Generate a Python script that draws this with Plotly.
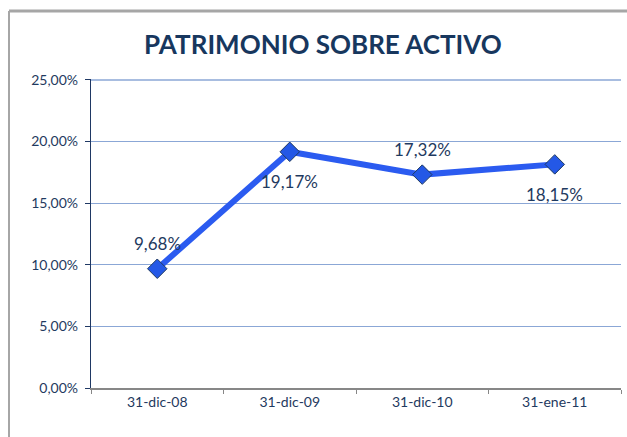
import plotly.graph_objects as go

categories = ["31-dic-08", "31-dic-09", "31-dic-10", "31-ene-11"]
values = [0.0968, 0.1917, 0.1732, 0.1815]
label_side = ["above", "below", "above", "below"]
y_ticks = [0, 0.05, 0.10, 0.15, 0.20, 0.25]

NAVY = "#1F3A60"
FONT = "Lato"

fig = go.Figure()
fig.add_trace(go.Scatter(
    x=categories, y=values, mode="lines+markers",
    line=dict(color="#2B5BF0", width=6),
    marker=dict(symbol="diamond", size=15, color="#2458E6",
                line=dict(color="#1F3A60", width=1)),
    hoverinfo="skip", showlegend=False, cliponaxis=False,
))

for c, v, s in zip(categories, values, label_side):
    fig.add_annotation(
        x=c, y=v, text=f"{v*100:.2f}%".replace(".", ","),
        showarrow=False, font=dict(family=FONT, size=17, color=NAVY),
        yshift=25 if s == "above" else -30,
    )

L, R, T, B = 91, 6, 79, 49
W, H = 627, 437
pw, ph = W - L - R, H - T - B
# chart frame (gray border at left and top), in pixels from the page top-left
frame_left_px, frame_top_px = 9, 11
fx = (frame_left_px - L) / pw
fx1 = (W - L + 5) / pw
fb = -(B + 5) / ph
fy = (H - B - frame_top_px) / ph
fig.add_shape(type="line", xref="paper", yref="paper", x0=fx, x1=fx,
              y0=fb, y1=fy, line=dict(color="#A6A6A6", width=2))
fig.add_shape(type="line", xref="paper", yref="paper", x0=fx, x1=fx1,
              y0=fy, y1=fy, line=dict(color="#A6A6A6", width=3))
# top grid line at 25%
fig.add_shape(type="line", xref="paper", yref="y", x0=0, x1=1,
              y0=y_ticks[-1], y1=y_ticks[-1],
              line=dict(color="#8BA7D6", width=1.3), layer="below")

fig.update_layout(
    width=W, height=H,
    margin=dict(l=L, r=R, t=T, b=B),
    paper_bgcolor="white", plot_bgcolor="white",
    separators=",.",
    title=dict(text="<b>PATRIMONIO SOBRE ACTIVO</b>", x=0.515, xanchor="center",
               y=1 - 45 / H, yanchor="middle",
               font=dict(family=FONT, size=26, color="#17375E")),
    font=dict(family=FONT, color=NAVY),
    xaxis=dict(type="category", showgrid=False, showline=True, linecolor="#878787",
               linewidth=2, ticks="outside", ticklen=4, tickcolor="#878787",
               tickson="boundaries", tickfont=dict(size=14, color=NAVY),
               range=[-0.5, 3.5], fixedrange=True),
    yaxis=dict(range=[0, 0.2508], tickvals=y_ticks, tickformat=".2%",
               showgrid=True, gridcolor="#8BA7D6", gridwidth=1.3,
               showline=True, linecolor="#1F3864", linewidth=1.3,
               ticks="outside", ticklen=5, tickcolor="#1F3864",
               tickfont=dict(size=14, color=NAVY), zeroline=False,
               ticklabelstandoff=4),
)

fig.write_html("out.html", config={"displayModeBar": False},
               post_script="document.body.style.margin='0';document.body.style.overflow='hidden';")
